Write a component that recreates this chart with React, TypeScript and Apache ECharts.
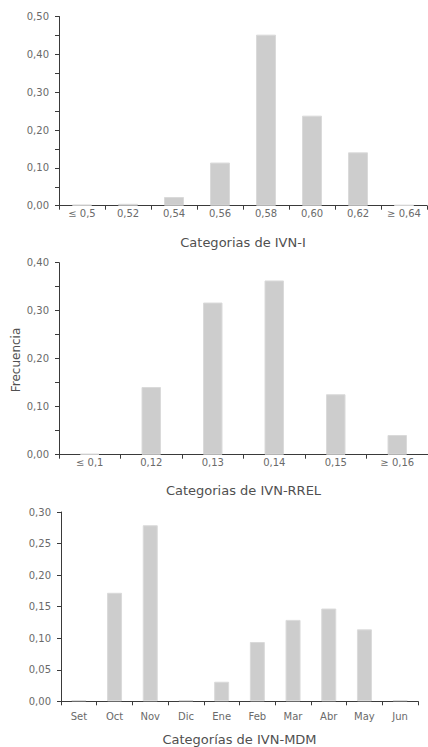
import React, { useEffect, useRef } from "react";
import * as echarts from "echarts";

const catsI = ["≤ 0,5", "0,52", "0,54", "0,56", "0,58", "0,60", "0,62", "≥ 0,64"];
const valsI = [0.003, 0.005, 0.023, 0.114, 0.452, 0.238, 0.141, 0.002];

const catsR = ["≤ 0,1", "0,12", "0,13", "0,14", "0,15", "≥ 0,16"];
const valsR = [0.002, 0.141, 0.317, 0.363, 0.126, 0.041];

const catsM = ["Set", "Oct", "Nov", "Dic", "Ene", "Feb", "Mar", "Abr", "May", "Jun"];
const valsM = [0.002, 0.172, 0.279, 0.002, 0.031, 0.094, 0.129, 0.147, 0.114, 0.002];

const nameI = "Categorias de IVN-I";
const nameR = "Categorias de IVN-RREL";
const nameM = "Categorías de IVN-MDM";
const yName = "Frecuencia";

const FONT = "DejaVu Sans";
const AXIS = "#3a3a3a";
const LABEL = "#6a6a6a";
const NAME = "#505050";
const BAR = "#cdcdcd";

function xAxisCfg(idx: number, cats: string[], name: string, labelMargin: number, nameGap: number) {
  return {
    type: "category",
    gridIndex: idx,
    data: cats,
    name,
    nameLocation: "middle",
    nameGap,
    nameTextStyle: { fontFamily: FONT, fontSize: 13, color: NAME },
    axisLine: { show: true, lineStyle: { color: AXIS, width: 1 } },
    axisTick: { show: true, length: 4, alignWithLabel: false, lineStyle: { color: AXIS } },
    axisLabel: { fontFamily: FONT, fontSize: 10, color: LABEL, margin: labelMargin, interval: 0 },
    splitLine: { show: false },
  };
}

function yAxisCfg(idx: number, max: number, interval: number, minor: boolean) {
  return {
    type: "value",
    gridIndex: idx,
    min: 0,
    max,
    interval,
    axisLine: { show: true, lineStyle: { color: AXIS, width: 1 } },
    axisTick: { show: true, length: 4, lineStyle: { color: AXIS } },
    minorTick: { show: minor, splitNumber: 2, length: 4, lineStyle: { color: AXIS } },
    axisLabel: {
      fontFamily: FONT,
      fontSize: 10,
      color: LABEL,
      margin: 10,
      formatter: (v: number) => v.toFixed(2).replace(".", ","),
    },
    splitLine: { show: false },
    minorSplitLine: { show: false },
  };
}

function barSeries(idx: number, data: number[], width: number) {
  return {
    type: "bar",
    xAxisIndex: idx,
    yAxisIndex: idx,
    data,
    barWidth: width,
    itemStyle: { color: BAR, borderColor: "#dadada", borderWidth: 1 },
    silent: true,
  };
}

export default function App() {
  const ref = useRef<HTMLDivElement>(null);
  useEffect(() => {
    if (!ref.current) return;
    const chart = echarts.init(ref.current, undefined, { renderer: "svg" });
    chart.setOption({
      animation: false,
      backgroundColor: "#ffffff",
      grid: [
        { left: 59, top: 16.5, width: 368, height: 189.2 },
        { left: 59, top: 262.7, width: 369, height: 192 },
        { left: 61, top: 512, width: 357, height: 189.3 },
      ],
      xAxis: [
        xAxisCfg(0, catsI, nameI, 3, 30),
        xAxisCfg(1, catsR, nameR, 3, 29.5),
        xAxisCfg(2, catsM, nameM, 10.5, 31.5),
      ],
      yAxis: [yAxisCfg(0, 0.5, 0.1, true), yAxisCfg(1, 0.4, 0.1, true), yAxisCfg(2, 0.3, 0.05, false)],
      series: [barSeries(0, valsI, 20), barSeries(1, valsR, 19.5), barSeries(2, valsM, 15)],
      graphic: [
        {
          type: "text",
          x: 15.5,
          y: 360,
          rotation: Math.PI / 2,
          style: {
            text: yName,
            fontFamily: FONT,
            fontSize: 12,
            fill: NAME,
            align: "center",
            verticalAlign: "middle",
          },
        },
      ],
    });
    return () => chart.dispose();
  }, []);
  return (
    <div
      ref={ref}
      style={{ position: "fixed", left: 0, top: 0, width: 428, height: 747, background: "#fff" }}
    />
  );
}
